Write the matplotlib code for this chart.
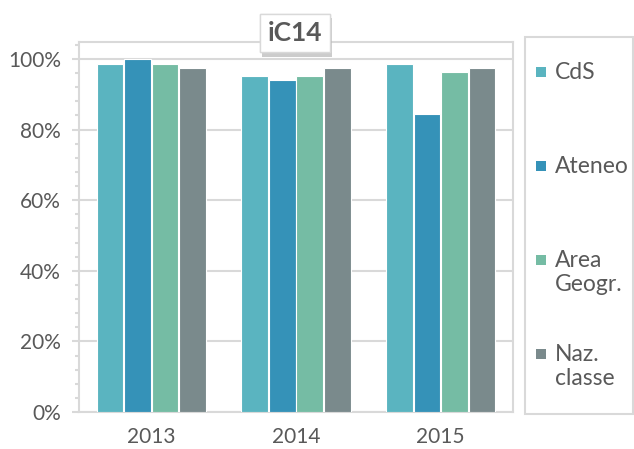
import matplotlib
matplotlib.use("Agg")
import matplotlib.pyplot as plt
import matplotlib.patheffects as pe
from matplotlib.patches import Rectangle
from matplotlib.ticker import MultipleLocator, PercentFormatter
import numpy as np

years = ["2013", "2014", "2015"]
series = ["CdS", "Ateneo", "Area\nGeogr.", "Naz.\nclasse"]
cds = [0.985, 0.951, 0.985]
ateneo = [1.0, 0.940, 0.843]
area = [0.985, 0.951, 0.963]
naz = [0.973, 0.973, 0.973]
colors = ["#5AB4C0", "#3592B8", "#75BCA4", "#7A8A8C"]

plt.rcParams['font.family'] = ['Lato', 'DejaVu Sans']
txt = "#595959"
grid = "#D9D9D9"

fig = plt.figure(figsize=(6.34, 4.49), dpi=100)
ax = fig.add_axes([79/634, 1 - 412/449, 434/634, 370/449])

x = np.arange(len(years))
step = 0.19
width = 0.185
for i, vals in enumerate([cds, ateneo, area, naz]):
    ax.bar(x + (i - 1.5) * step, vals, width, color=colors[i],
           edgecolor="white", linewidth=0.8, zorder=3)

ax.set_xlim(-0.5, 2.5)
ax.set_ylim(0, 1.048)
ax.set_xticks(x)
ax.set_xticklabels(years)
ax.yaxis.set_major_locator(MultipleLocator(0.2))
ax.yaxis.set_minor_locator(MultipleLocator(0.04))
ax.yaxis.set_major_formatter(PercentFormatter(1.0, decimals=0))
ax.grid(axis="y", color=grid, linewidth=1.5, zorder=0)
for s in ax.spines.values():
    s.set_color(grid)
    s.set_linewidth(1.5)
ax.tick_params(axis="x", length=0, pad=11, labelsize=15, labelcolor=txt)
ax.tick_params(axis="y", which="both", color=grid, width=1.5, labelsize=15,
               labelcolor=txt, pad=8)
ax.tick_params(axis="y", which="major", length=5)
ax.tick_params(axis="y", which="minor", length=3)

# title box with shadow
t = fig.text(295/634, 1 - 33/449, "iC14", ha="center", va="center",
             fontsize=19, fontweight="bold", color=txt, zorder=10,
             bbox=dict(boxstyle="square,pad=0.28", fc="white", ec=grid, lw=1))
t.get_bbox_patch().set_path_effects([
    pe.withSimplePatchShadow(offset=(1.5, -3), shadow_rgbFace="#AAAAAA", alpha=0.6),
    pe.Normal()])

# legend panel
fig.add_artist(Rectangle((525/634, 1 - 414/449), 108/634, 377/449,
                         transform=fig.transFigure, fc="white", ec=grid, lw=1.5))
for i, name in enumerate(series):
    yc = 1 - (72 + 94 * i) / 449
    fig.add_artist(Rectangle((536/634, yc - 5/449), 10/634, 10/449,
                             transform=fig.transFigure, fc=colors[i], ec="none"))
    fig.text(555/634, yc + 10/449, name, ha="left", va="top", fontsize=16.5,
             color=txt, linespacing=1.15)

fig.savefig("out.png", dpi=100)
